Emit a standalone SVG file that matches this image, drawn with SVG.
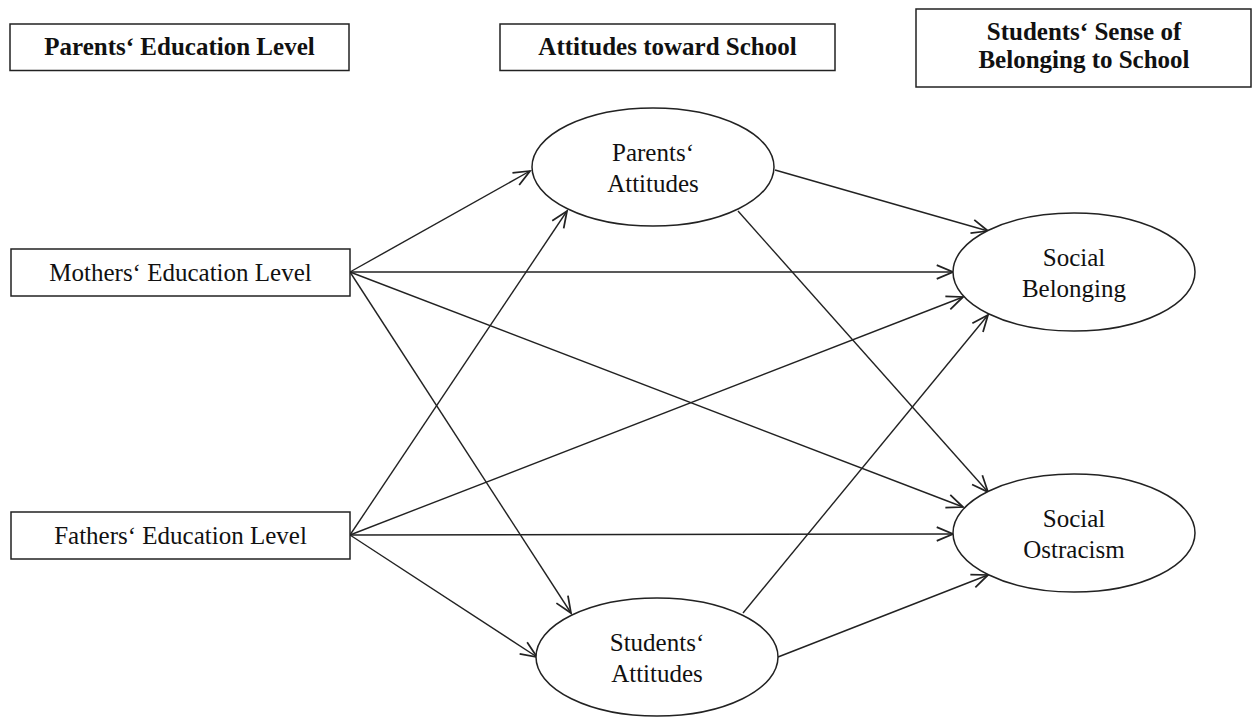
<svg xmlns="http://www.w3.org/2000/svg" width="1252" height="718" viewBox="0 0 1252 718">
<style>
.box{fill:#fff;stroke:#222;stroke-width:1.5}
.ell{fill:#fff;stroke:#222;stroke-width:1.5}
.t{font-family:"Liberation Serif","Times New Roman",serif;font-size:25px;fill:#111;text-anchor:middle}
.b{font-weight:bold}
.c{fill:none;stroke:#222;stroke-width:1.4;marker-end:url(#arr)}
</style>
<defs>
<marker id="arr" markerUnits="userSpaceOnUse" markerWidth="20" markerHeight="20" viewBox="-14 -8 16 16" refX="0" refY="0" orient="auto">
<path d="M-13,-5.5 L0,0 L-13,5.5" fill="none" stroke="#222" stroke-width="1.4"/>
</marker>
</defs>
<rect width="1252" height="718" fill="#fff"/>
<g id="connectors">
<line class="c" x1="350" y1="272" x2="530" y2="171"/>
<line class="c" x1="350" y1="272" x2="953" y2="272"/>
<line class="c" x1="350" y1="272" x2="963" y2="507"/>
<line class="c" x1="350" y1="272" x2="571" y2="613"/>
<line class="c" x1="350" y1="535" x2="567" y2="211"/>
<line class="c" x1="350" y1="535" x2="963" y2="297"/>
<line class="c" x1="350" y1="535" x2="953" y2="534"/>
<line class="c" x1="350" y1="535" x2="537" y2="657"/>
<line class="c" x1="775" y1="170" x2="988" y2="231"/>
<line class="c" x1="738" y1="211" x2="988" y2="492"/>
<line class="c" x1="743" y1="613" x2="988" y2="315"/>
<line class="c" x1="778" y1="657" x2="988" y2="575"/>
</g>
<g id="hdr-parents-edu">
<rect class="box" x="10" y="24" width="339" height="46.5"/>
<text class="t b" x="179.5" y="55">Parents‘ Education Level</text>
</g>
<g id="hdr-attitudes">
<rect class="box" x="500" y="24" width="335" height="46.5"/>
<text class="t b" x="667.5" y="55">Attitudes toward School</text>
</g>
<g id="hdr-belonging">
<rect class="box" x="916" y="9" width="335" height="78"/>
<text class="t b" x="1084" y="40">Students‘ Sense of</text>
<text class="t b" x="1084" y="68">Belonging to School</text>
</g>
<g id="mothers">
<rect class="box" x="11" y="249" width="339" height="47"/>
<text class="t" x="180.5" y="281">Mothers‘ Education Level</text>
</g>
<g id="fathers">
<rect class="box" x="11" y="512" width="339" height="47"/>
<text class="t" x="180.5" y="544">Fathers‘ Education Level</text>
</g>
<g id="parents-attitudes">
<ellipse class="ell" cx="653" cy="167" rx="121" ry="59"/>
<text class="t" x="653" y="161">Parents‘</text>
<text class="t" x="653" y="192">Attitudes</text>
</g>
<g id="students-attitudes">
<ellipse class="ell" cx="657" cy="657" rx="121" ry="59"/>
<text class="t" x="657" y="651">Students‘</text>
<text class="t" x="657" y="682">Attitudes</text>
</g>
<g id="social-belonging">
<ellipse class="ell" cx="1074" cy="272" rx="121" ry="59"/>
<text class="t" x="1074" y="266">Social</text>
<text class="t" x="1074" y="297">Belonging</text>
</g>
<g id="social-ostracism">
<ellipse class="ell" cx="1074" cy="533" rx="121" ry="59"/>
<text class="t" x="1074" y="527">Social</text>
<text class="t" x="1074" y="558">Ostracism</text>
</g>
</svg>
